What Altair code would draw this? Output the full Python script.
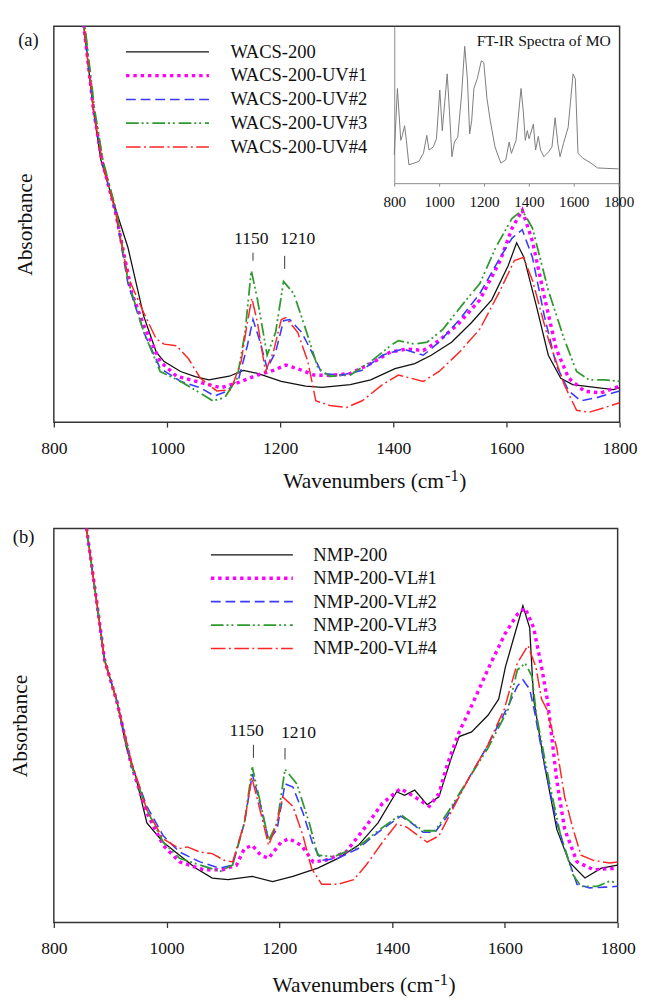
import altair as alt
import pandas as pd

FONT = "Liberation Serif"

# ------------------------------------------------------------------ data
A_NAMES = ["WACS-200", "WACS-200-UV#1", "WACS-200-UV#2", "WACS-200-UV#3", "WACS-200-UV#4"]
B_NAMES = ["NMP-200", "NMP-200-VL#1", "NMP-200-VL#2", "NMP-200-VL#3", "NMP-200-VL#4"]

# (wavenumber, absorbance)
A_WACS = [(840, 1.17), (853, 1.0), (870, 0.786), (883, 0.663), (896, 0.60), (909, 0.539), (931, 0.441),
          (959, 0.267), (981, 0.177), (995, 0.153), (1024, 0.128), (1050, 0.115), (1074, 0.107), (1110, 0.116),
          (1135, 0.131), (1160, 0.123), (1202, 0.103), (1245, 0.091), (1274, 0.088), (1324, 0.095), (1360, 0.107),
          (1403, 0.135), (1438, 0.148), (1467, 0.169), (1503, 0.202), (1538, 0.251), (1574, 0.309), (1603, 0.395),
          (1618, 0.453), (1631, 0.416), (1653, 0.293), (1674, 0.169), (1696, 0.111), (1717, 0.095), (1760, 0.087),
          (1789, 0.082), (1800, 0.087)]
A_UV1 = [(840, 1.17), (853, 1.0), (870, 0.79), (885, 0.66), (909, 0.53), (938, 0.325), (959, 0.244), (988, 0.153),
         (1017, 0.116), (1052, 0.103), (1095, 0.087), (1124, 0.099), (1160, 0.119), (1188, 0.131), (1210, 0.144),
         (1231, 0.135), (1260, 0.119), (1288, 0.118), (1324, 0.123), (1360, 0.148), (1395, 0.177), (1424, 0.185),
         (1453, 0.181), (1481, 0.206), (1517, 0.251), (1553, 0.309), (1589, 0.408), (1610, 0.490), (1628, 0.535),
         (1646, 0.457), (1667, 0.317), (1688, 0.185), (1710, 0.111), (1738, 0.078), (1767, 0.074), (1800, 0.091)]
A_UV2 = [(840, 1.17), (853, 1.0), (870, 0.79), (885, 0.66), (909, 0.53), (931, 0.350), (959, 0.227), (988, 0.136),
         (1024, 0.103), (1059, 0.087), (1084, 0.066), (1106, 0.078), (1127, 0.111), (1142, 0.193), (1152, 0.259),
         (1163, 0.210), (1177, 0.136), (1192, 0.177), (1206, 0.256), (1217, 0.259), (1238, 0.227), (1256, 0.177),
         (1274, 0.123), (1310, 0.119), (1345, 0.131), (1381, 0.169), (1417, 0.185), (1453, 0.169), (1481, 0.202),
         (1517, 0.259), (1553, 0.325), (1589, 0.416), (1610, 0.465), (1628, 0.486), (1646, 0.416), (1667, 0.268),
         (1688, 0.144), (1710, 0.079), (1731, 0.054), (1760, 0.062), (1800, 0.079)]
A_UV3 = [(840, 1.18), (855, 1.0), (872, 0.79), (887, 0.66), (911, 0.53), (931, 0.358), (959, 0.227), (988, 0.128),
         (1024, 0.103), (1052, 0.079), (1081, 0.054), (1102, 0.062), (1124, 0.111), (1138, 0.227), (1149, 0.383),
         (1160, 0.309), (1177, 0.169), (1192, 0.227), (1206, 0.355), (1224, 0.325), (1245, 0.235), (1267, 0.136),
         (1288, 0.116), (1324, 0.119), (1360, 0.153), (1395, 0.193), (1409, 0.206), (1438, 0.197), (1460, 0.202),
         (1488, 0.235), (1524, 0.300), (1553, 0.350), (1581, 0.441), (1610, 0.515), (1628, 0.535), (1646, 0.490),
         (1674, 0.333), (1702, 0.210), (1724, 0.128), (1746, 0.107), (1774, 0.107), (1800, 0.103)]
A_UV4 = [(840, 1.17), (853, 1.0), (870, 0.79), (885, 0.66), (909, 0.53), (931, 0.367), (959, 0.276), (981, 0.210),
         (995, 0.197), (1017, 0.193), (1038, 0.160), (1059, 0.111), (1088, 0.079), (1113, 0.082), (1131, 0.153),
         (1142, 0.251), (1150, 0.313), (1160, 0.251), (1174, 0.128), (1188, 0.177), (1202, 0.259), (1210, 0.264),
         (1231, 0.227), (1249, 0.153), (1263, 0.054), (1288, 0.042), (1317, 0.037), (1345, 0.054), (1381, 0.095),
         (1409, 0.119), (1431, 0.111), (1453, 0.103), (1481, 0.128), (1517, 0.177), (1553, 0.235), (1589, 0.333),
         (1614, 0.408), (1630, 0.416), (1646, 0.358), (1674, 0.210), (1702, 0.095), (1724, 0.030), (1746, 0.025),
         (1774, 0.037), (1800, 0.049)]

# (wavenumber, absorbance)
B_NMP = [(845, 1.13), (858, 1.0), (876, 0.814), (890, 0.666), (911, 0.567), (929, 0.443), (944, 0.377),
         (965, 0.253), (994, 0.204), (1023, 0.171), (1052, 0.138), (1081, 0.113), (1109, 0.109), (1152, 0.117),
         (1188, 0.104), (1224, 0.117), (1268, 0.138), (1304, 0.163), (1340, 0.196), (1375, 0.253), (1408, 0.332),
         (1422, 0.323), (1440, 0.336), (1462, 0.299), (1483, 0.319), (1505, 0.418), (1519, 0.472), (1541, 0.484),
         (1570, 0.526), (1589, 0.567), (1601, 0.649), (1632, 0.804), (1644, 0.748), (1651, 0.567), (1670, 0.402),
         (1692, 0.237), (1714, 0.154), (1742, 0.113), (1771, 0.138), (1800, 0.146)]
B_VL1 = [(845, 1.13), (858, 1.0), (876, 0.814), (890, 0.666), (912, 0.56), (937, 0.402), (965, 0.278), (994, 0.196),
         (1023, 0.154), (1066, 0.134), (1099, 0.134), (1124, 0.146), (1138, 0.188), (1152, 0.196), (1167, 0.171),
         (1181, 0.163), (1203, 0.204), (1217, 0.213), (1239, 0.196), (1260, 0.154), (1282, 0.158), (1318, 0.179),
         (1354, 0.245), (1383, 0.303), (1415, 0.340), (1440, 0.319), (1466, 0.295), (1483, 0.327), (1498, 0.402),
         (1519, 0.484), (1541, 0.550), (1572, 0.649), (1600, 0.732), (1622, 0.782), (1636, 0.798), (1651, 0.748),
         (1665, 0.649), (1676, 0.56), (1692, 0.361), (1706, 0.237), (1728, 0.154), (1757, 0.134), (1800, 0.138)]
B_VL2 = [(845, 1.13), (858, 1.0), (876, 0.814), (890, 0.666), (912, 0.56), (937, 0.402), (965, 0.295), (994, 0.220),
         (1023, 0.179), (1059, 0.154), (1095, 0.138), (1117, 0.146), (1138, 0.253), (1152, 0.377), (1167, 0.295),
         (1181, 0.208), (1196, 0.237), (1210, 0.352), (1224, 0.344), (1242, 0.278), (1260, 0.196), (1275, 0.158),
         (1304, 0.163), (1340, 0.188), (1375, 0.229), (1415, 0.270), (1433, 0.254), (1455, 0.229), (1476, 0.229),
         (1498, 0.270), (1534, 0.361), (1570, 0.451), (1606, 0.550), (1622, 0.600), (1632, 0.616), (1644, 0.592),
         (1652, 0.54), (1670, 0.402), (1692, 0.253), (1714, 0.154), (1728, 0.097), (1750, 0.088), (1778, 0.090),
         (1800, 0.092)]
B_VL3 = [(845, 1.13), (858, 1.0), (876, 0.814), (890, 0.666), (912, 0.56), (937, 0.402), (965, 0.286), (994, 0.204),
         (1023, 0.163), (1059, 0.146), (1095, 0.130), (1117, 0.146), (1138, 0.253), (1152, 0.394), (1167, 0.300),
         (1181, 0.208), (1196, 0.253), (1210, 0.389), (1231, 0.352), (1253, 0.253), (1268, 0.171), (1296, 0.167),
         (1340, 0.192), (1375, 0.233), (1415, 0.274), (1455, 0.233), (1476, 0.233), (1498, 0.278), (1534, 0.361),
         (1570, 0.443), (1606, 0.542), (1622, 0.641), (1636, 0.658), (1648, 0.625), (1656, 0.526), (1678, 0.361),
         (1699, 0.220), (1721, 0.121), (1735, 0.092), (1764, 0.092), (1786, 0.105), (1800, 0.101)]
B_VL4 = [(845, 1.13), (858, 1.0), (876, 0.814), (890, 0.666), (912, 0.56), (937, 0.411), (965, 0.286), (994, 0.212),
         (1023, 0.188), (1037, 0.192), (1059, 0.179), (1081, 0.175), (1102, 0.158), (1117, 0.154), (1138, 0.253),
         (1151, 0.369), (1167, 0.278), (1181, 0.196), (1196, 0.253), (1206, 0.319), (1224, 0.295), (1242, 0.220),
         (1257, 0.138), (1275, 0.097), (1304, 0.097), (1332, 0.109), (1354, 0.146), (1383, 0.204), (1408, 0.250),
         (1426, 0.242), (1462, 0.204), (1483, 0.220), (1498, 0.262), (1534, 0.361), (1570, 0.451), (1599, 0.542),
         (1622, 0.658), (1641, 0.703), (1655, 0.649), (1665, 0.567), (1674, 0.542), (1692, 0.443), (1706, 0.319),
         (1721, 0.237), (1735, 0.171), (1757, 0.158), (1786, 0.151), (1800, 0.154)]

# inset: FT-IR spectrum of MO (wavenumber, relative absorbance)
MO_SPEC = [(800, 0.180), (814, 0.603), (829, 0.273), (836, 0.304), (846, 0.366), (854, 0.273), (865, 0.118),
           (880, 0.124), (909, 0.138), (930, 0.190), (945, 0.304), (955, 0.211), (974, 0.231), (988, 0.283),
           (1003, 0.593), (1014, 0.335), (1036, 0.696), (1046, 0.459), (1057, 0.169), (1068, 0.262), (1083, 0.293),
           (1100, 0.562), (1114, 0.872), (1126, 0.665), (1136, 0.314), (1145, 0.397), (1155, 0.603), (1170, 0.665),
           (1188, 0.779), (1199, 0.769), (1213, 0.541), (1228, 0.397), (1249, 0.231), (1275, 0.128), (1297, 0.149),
           (1312, 0.262), (1322, 0.190), (1343, 0.273), (1365, 0.603), (1375, 0.459), (1384, 0.273), (1393, 0.335),
           (1401, 0.283), (1420, 0.376), (1430, 0.211), (1442, 0.298), (1452, 0.211), (1467, 0.169), (1488, 0.200),
           (1503, 0.231), (1517, 0.417), (1529, 0.252), (1539, 0.169), (1554, 0.252), (1575, 0.355), (1597, 0.696),
           (1607, 0.665), (1619, 0.190), (1641, 0.159), (1677, 0.128), (1706, 0.097), (1800, 0.091)]

X_TICKS = [800, 1000, 1200, 1400, 1600, 1800]
PEAK_LABELS = ["1150", "1210"]
# annotation anchors (wavenumber, absorbance)
A_PEAK_TEXT = [(1149, 0.461), (1231, 0.461)]
A_PEAK_TICK = [(1152, 0.428, 0.408), (1208, 0.420, 0.387)]
B_PEAK_TEXT = [(1142, 0.485), (1234, 0.480)]
B_PEAK_TICK = [(1154, 0.451, 0.418), (1210, 0.443, 0.414)]

# ------------------------------------------------------------------ styles
STYLES = [
    dict(color="#111111", strokeWidth=1.3),
    dict(color="#ff00ff", strokeWidth=3.5, strokeDash=[3.5, 4]),
    dict(color="#3a3aff", strokeWidth=1.6, strokeDash=[10, 5]),
    dict(color="#2e992e", strokeWidth=1.8, strokeDash=[13, 3, 2, 3, 2, 4]),
    dict(color="#ff2525", strokeWidth=1.5, strokeDash=[15, 3.5, 2, 3.5]),
]
INK = "#111111"


def one(value):
    return pd.DataFrame({"t": [value]})


def panel(names, series, W, H, leg, peak_text, peak_tick, xt, ytx, tag, tag_xy, extra=None):
    xs = alt.Scale(domain=[800, 1800], nice=False, zero=False)
    ys = alt.Scale(domain=[0, 1], nice=False, zero=False)
    xaxis = alt.Axis(values=X_TICKS, format="d", tickSize=5, tickColor="#333333", tickWidth=1.3,
                     labelFont=FONT, labelFontSize=18, labelColor=INK, labelBaseline="middle",
                     labelPadding=22, labelFlush=False, labelOverlap=False, domain=False, grid=False,
                     title=None)
    yaxis = alt.Axis(labels=False, ticks=False, domain=False, grid=False, title="Absorbance",
                     titleFont=FONT, titleFontSize=22, titleFontWeight="normal", titleColor=INK,
                     titleX=ytx, titleY=H / 2, titleAngle=270, titleBaseline="middle", titleAlign="center")
    X = alt.X("wn:Q", scale=xs, axis=xaxis)
    Y = alt.Y("ab:Q", scale=ys, axis=yaxis)

    layers = []
    for name, pts, st in zip(names, series, STYLES):
        df = pd.DataFrame(pts, columns=["wn", "ab"])
        layers.append(alt.Chart(df).mark_line(clip=True, strokeCap="butt", **st).encode(x=X, y=Y))

    # peak annotations
    pt = pd.DataFrame({"label": PEAK_LABELS, "wn": [p[0] for p in peak_text], "ab": [p[1] for p in peak_text]})
    layers.append(alt.Chart(pt).mark_text(font=FONT, fontSize=18, color=INK, baseline="middle")
                  .encode(x=X, y=Y, text="label:N"))
    pk = pd.DataFrame({"wn": [p[0] for p in peak_tick], "ab": [p[1] for p in peak_tick],
                       "ab2": [p[2] for p in peak_tick]})
    layers.append(alt.Chart(pk).mark_rule(color="#333333", strokeWidth=1)
                  .encode(x=X, y=Y, y2="ab2:Q"))

    # legend (manual, inside the plot)
    lx0, lx1, tx, ly0, dy = leg
    for i, (name, st) in enumerate(zip(names, STYLES)):
        y = ly0 + i * dy
        layers.append(alt.Chart(one(name)).mark_rule(strokeCap="butt", **st)
                      .encode(x=alt.value(lx0), x2=alt.value(lx1), y=alt.value(y)))
        layers.append(alt.Chart(one(name)).mark_text(align="left", baseline="middle", font=FONT,
                                                     fontSize=19, color=INK)
                      .encode(x=alt.value(tx), y=alt.value(y), text="t:N"))

    # x-axis title with superscript
    xe, base = xt
    layers.append(alt.Chart(one("Wavenumbers (cm")).mark_text(align="right", baseline="alphabetic",
                  font=FONT, fontSize=22, color=INK).encode(x=alt.value(xe), y=alt.value(H + base), text="t:N"))
    layers.append(alt.Chart(one("-1")).mark_text(align="left", baseline="alphabetic",
                  font=FONT, fontSize=17, color=INK).encode(x=alt.value(xe + 1), y=alt.value(H + base - 7), text="t:N"))
    layers.append(alt.Chart(one(")")).mark_text(align="left", baseline="alphabetic",
                  font=FONT, fontSize=22, color=INK).encode(x=alt.value(xe + 15.5), y=alt.value(H + base), text="t:N"))

    # panel tag
    layers.append(alt.Chart(one(tag)).mark_text(font=FONT, fontSize=19, color=INK, baseline="middle")
                  .encode(x=alt.value(tag_xy[0]), y=alt.value(tag_xy[1]), text="t:N"))

    main = alt.layer(*layers).properties(width=W, height=H)
    if extra is not None:
        main = alt.layer(main, *extra).resolve_scale(x="independent", y="independent")
    return main.properties(width=W, height=H)


# ---------------- inset (panel a)
AW, AH = 580, 406
IN_X0, IN_X1, IN_BOTTOM = 349, 579, 161
mo = pd.DataFrame(MO_SPEC, columns=["wn", "ab"])
inset_line = alt.Chart(mo).mark_line(color="#7a7a7a", strokeWidth=1).encode(
    x=alt.X("wn:Q", scale=alt.Scale(domain=[800, 1800], range=[IN_X0, IN_X1], nice=False, zero=False),
            axis=alt.Axis(orient="bottom", offset=-(AH - IN_BOTTOM), values=X_TICKS, format="d",
                          tickSize=3, tickColor="#888888", labelFont=FONT, labelFontSize=15.5,
                          labelColor=INK, labelBaseline="middle", labelPadding=16, labelFlush=False,
                          labelOverlap=False, domainColor="#888888", domainWidth=1, grid=False, title=None)),
    y=alt.Y("ab:Q", scale=alt.Scale(domain=[0, 1], range=[IN_BOTTOM, 0], nice=False, zero=False),
            axis=alt.Axis(orient="left", offset=-IN_X0, labels=False, ticks=False, domainColor="#888888",
                          domainWidth=1, grid=False, title=None)),
)
inset_title = alt.Chart(one("FT-IR Spectra of MO")).mark_text(
    align="right", baseline="middle", font=FONT, fontSize=16, color=INK
).encode(x=alt.value(571), y=alt.value(15), text="t:N")

panel_a = panel(A_NAMES, [A_WACS, A_UV1, A_UV2, A_UV3, A_UV4], AW, AH,
                leg=(74, 159, 181, 26.3, 24.4), peak_text=A_PEAK_TEXT, peak_tick=A_PEAK_TICK,
                xt=(400, 67), ytx=-30, tag="(a)", tag_xy=(-26, 14), extra=[inset_line, inset_title])

panel_b = panel(B_NAMES, [B_NMP, B_VL1, B_VL2, B_VL3, B_VL4], 578, 404,
                leg=(161, 245, 266, 27, 24), peak_text=B_PEAK_TEXT, peak_tick=B_PEAK_TICK,
                xt=(389, 71), ytx=-35, tag="(b)", tag_xy=(-31, 9))

chart = alt.concat(panel_a, panel_b, columns=1, spacing=36, align="none", bounds="full").properties(
    padding={"left": 0, "top": 5, "right": 5, "bottom": 0}
).configure_view(stroke="#333333", strokeWidth=1.5).configure_axis(grid=False)

chart.save("out.html", embed_options={"renderer": "svg", "actions": False})
